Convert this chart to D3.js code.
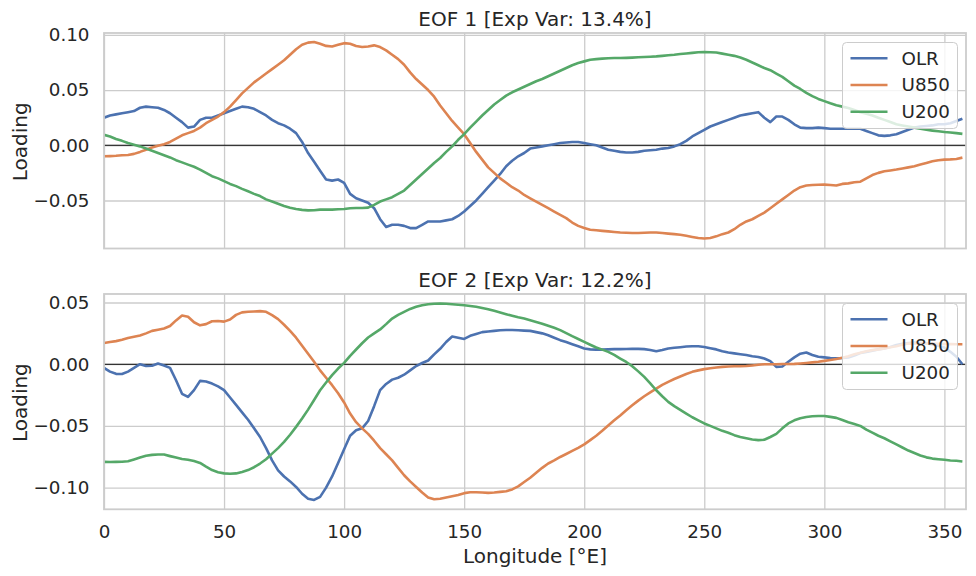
<!DOCTYPE html>
<html><head><meta charset="utf-8">
<script src="https://cdn.jsdelivr.net/npm/d3@7"></script>
<style>
html,body{margin:0;padding:0;background:#fff;}
svg text{font-family:"DejaVu Sans",sans-serif;fill:#262626;}
</style></head>
<body><svg id="chart" width="976" height="576"></svg>
<script>
// Longitude grid (°E), 2.5° spacing
const lon = d3.range(0, 360, 2.5);
const seriesNames = ["OLR", "U850", "U200"];
const titles = ["EOF 1 [Exp Var: 13.4%]", "EOF 2 [Exp Var: 12.2%]"];
const xTicks = [0, 50, 100, 150, 200, 250, 300, 350];
const yTicks1 = [-0.05, 0.00, 0.05, 0.10];
const yTicks2 = [-0.10, -0.05, 0.00, 0.05];

const eof1OLR = [
 0.025,0.027,0.028,0.029,0.030,0.031,0.034,0.035,
 0.0345,0.034,0.032,0.029,0.025,0.021,0.016,0.017,
 0.023,0.025,0.025,0.027,0.029,0.031,0.033,0.035,
 0.0345,0.033,0.030,0.027,0.023,0.020,0.018,0.015,
 0.011,0.003,-0.007,-0.015,-0.023,-0.031,-0.032,-0.031,
 -0.034,-0.044,-0.048,-0.050,-0.052,-0.057,-0.067,-0.074,
 -0.072,-0.072,-0.073,-0.075,-0.075,-0.072,-0.069,-0.069,
 -0.069,-0.068,-0.067,-0.064,-0.060,-0.055,-0.050,-0.044,
 -0.038,-0.032,-0.026,-0.019,-0.014,-0.010,-0.007,-0.003,
 -0.002,-0.001,0.000,0.001,0.002,0.0025,0.003,0.003,
 0.002,0.001,0.000,-0.002,-0.004,-0.005,-0.006,-0.0065,
 -0.0065,-0.006,-0.005,-0.0045,-0.004,-0.003,-0.0025,-0.001,
 0.001,0.004,0.008,0.011,0.014,0.017,0.019,0.021,
 0.023,0.025,0.027,0.028,0.029,0.030,0.025,0.021,
 0.026,0.026,0.023,0.019,0.016,0.0155,0.0155,0.016,
 0.0155,0.015,0.015,0.015,0.015,0.015,0.015,0.013,
 0.011,0.009,0.0085,0.009,0.010,0.012,0.014,0.016,
 0.017,0.0175,0.018,0.019,0.019,0.020,0.022,0.024];
const eof1U850 = [
 -0.010,-0.0098,-0.0095,-0.009,-0.0088,-0.0078,-0.006,-0.004,
 -0.002,-0.0005,0.001,0.003,0.006,0.009,0.011,0.013,
 0.016,0.020,0.023,0.026,0.030,0.035,0.041,0.047,
 0.052,0.057,0.061,0.065,0.069,0.073,0.077,0.082,
 0.087,0.091,0.093,0.0935,0.092,0.090,0.0895,0.091,
 0.0925,0.092,0.090,0.089,0.0895,0.0905,0.089,0.086,
 0.082,0.078,0.073,0.066,0.060,0.055,0.050,0.044,
 0.036,0.029,0.022,0.016,0.010,0.002,-0.006,-0.013,
 -0.020,-0.025,-0.030,-0.034,-0.038,-0.041,-0.045,-0.048,
 -0.051,-0.054,-0.057,-0.060,-0.063,-0.066,-0.070,-0.073,
 -0.075,-0.0765,-0.077,-0.0775,-0.078,-0.0785,-0.079,-0.0792,
 -0.0795,-0.0795,-0.0793,-0.079,-0.079,-0.0795,-0.080,-0.0805,
 -0.081,-0.082,-0.083,-0.084,-0.0845,-0.084,-0.0825,-0.0805,
 -0.079,-0.076,-0.072,-0.069,-0.067,-0.064,-0.061,-0.057,
 -0.053,-0.049,-0.045,-0.041,-0.038,-0.0365,-0.036,-0.0358,
 -0.0356,-0.036,-0.0365,-0.035,-0.0345,-0.0335,-0.033,-0.030,
 -0.027,-0.025,-0.0235,-0.0228,-0.022,-0.021,-0.020,-0.019,
 -0.0175,-0.016,-0.0145,-0.0135,-0.013,-0.0128,-0.0124,-0.0112];
const eof1U200 = [
 0.0095,0.008,0.0057,0.004,0.002,0.0005,-0.001,-0.003,
 -0.005,-0.007,-0.009,-0.011,-0.0135,-0.0155,-0.0175,-0.0195,
 -0.022,-0.025,-0.028,-0.030,-0.0325,-0.035,-0.037,-0.0395,
 -0.0417,-0.044,-0.046,-0.049,-0.051,-0.053,-0.055,-0.0565,
 -0.0577,-0.0585,-0.059,-0.0588,-0.0583,-0.0582,-0.0583,-0.058,
 -0.0577,-0.057,-0.0568,-0.0568,-0.0565,-0.054,-0.051,-0.049,
 -0.047,-0.044,-0.041,-0.036,-0.031,-0.026,-0.021,-0.016,
 -0.0115,-0.006,-0.001,0.005,0.010,0.016,0.0215,0.027,
 0.032,0.037,0.041,0.045,0.048,0.0505,0.053,0.0555,
 0.058,0.060,0.0625,0.065,0.0675,0.070,0.0725,0.0745,
 0.076,0.0775,0.078,0.0785,0.0788,0.079,0.079,0.0792,
 0.0794,0.0797,0.080,0.0802,0.0805,0.081,0.0815,0.082,
 0.0827,0.0832,0.0837,0.0843,0.0845,0.0843,0.084,0.083,
 0.082,0.081,0.0795,0.0775,0.075,0.0725,0.070,0.068,
 0.065,0.062,0.058,0.054,0.051,0.0475,0.0445,0.042,
 0.040,0.038,0.0362,0.035,0.0338,0.032,0.030,0.0285,
 0.027,0.025,0.023,0.021,0.019,0.018,0.017,0.016,
 0.015,0.014,0.0133,0.0127,0.012,0.0115,0.011,0.0103];
const eof2OLR = [
 -0.003,-0.006,-0.0078,-0.008,-0.006,-0.003,0.000,-0.0015,
 -0.0012,0.0005,-0.001,-0.003,-0.013,-0.024,-0.0265,-0.021,
 -0.0135,-0.014,-0.0157,-0.018,-0.021,-0.027,-0.033,-0.039,
 -0.045,-0.052,-0.059,-0.068,-0.078,-0.086,-0.091,-0.095,
 -0.0995,-0.105,-0.109,-0.110,-0.1075,-0.100,-0.091,-0.080,
 -0.069,-0.058,-0.0535,-0.052,-0.046,-0.034,-0.021,-0.016,
 -0.0125,-0.011,-0.0085,-0.005,-0.0015,0.001,0.003,0.008,
 0.0125,0.018,0.0225,0.0215,0.0205,0.023,0.0245,0.026,
 0.0265,0.027,0.0275,0.0277,0.0277,0.0275,0.0272,0.027,
 0.026,0.025,0.0235,0.0215,0.0195,0.018,0.0162,0.0145,
 0.0128,0.012,0.0118,0.0118,0.012,0.0122,0.0122,0.0123,
 0.0124,0.0124,0.0122,0.0115,0.0105,0.0115,0.0127,0.0133,
 0.0138,0.0143,0.0146,0.0145,0.014,0.013,0.012,0.0105,
 0.0095,0.0088,0.0081,0.0075,0.0065,0.0058,0.0046,0.0025,
 -0.0022,-0.0018,0.002,0.0055,0.0085,0.0095,0.0075,0.006,
 0.0055,0.005,0.0048,0.005,0.0055,0.007,0.009,0.010,
 0.011,0.012,0.0128,0.014,0.0155,0.0165,0.0172,0.0175,
 0.0172,0.0168,0.016,0.015,0.0135,0.010,0.006,0.000];
const eof2U850 = [
 0.0172,0.018,0.0187,0.0198,0.0212,0.0222,0.0232,0.025,
 0.027,0.028,0.029,0.031,0.0355,0.0395,0.0385,0.034,
 0.0315,0.0325,0.0348,0.035,0.0345,0.0362,0.040,0.042,
 0.0425,0.0427,0.043,0.0425,0.0398,0.0365,0.032,0.027,
 0.0215,0.015,0.0085,0.002,-0.005,-0.011,-0.017,-0.0235,
 -0.031,-0.040,-0.047,-0.052,-0.0565,-0.062,-0.068,-0.073,
 -0.078,-0.084,-0.090,-0.095,-0.0995,-0.104,-0.108,-0.1095,
 -0.109,-0.108,-0.107,-0.106,-0.1045,-0.1038,-0.1038,-0.104,
 -0.1043,-0.104,-0.1035,-0.103,-0.1015,-0.099,-0.0955,-0.092,
 -0.088,-0.084,-0.0805,-0.078,-0.0752,-0.0728,-0.0703,-0.0678,
 -0.065,-0.0615,-0.058,-0.054,-0.0497,-0.0455,-0.0415,-0.0373,
 -0.0333,-0.0295,-0.026,-0.0228,-0.0198,-0.0168,-0.0143,-0.012,
 -0.010,-0.008,-0.0062,-0.005,-0.004,-0.0033,-0.0027,-0.0022,
 -0.0018,-0.0016,-0.0016,-0.0014,-0.001,-0.0005,0.000,0.000,
 0.000,0.0002,0.0002,0.0003,0.0006,0.001,0.0015,0.002,
 0.0027,0.0034,0.0042,0.0053,0.0065,0.008,0.0092,0.0105,
 0.0114,0.012,0.0128,0.0137,0.0146,0.0157,0.0167,0.0168,
 0.0168,0.0168,0.0167,0.0165,0.0164,0.0163,0.0162,0.0162];
const eof2U200 = [
 -0.0792,-0.0793,-0.0792,-0.079,-0.0786,-0.0772,-0.0757,-0.0742,
 -0.0735,-0.0732,-0.0732,-0.0745,-0.0757,-0.0768,-0.0775,-0.0785,
 -0.080,-0.083,-0.0858,-0.0875,-0.0885,-0.0888,-0.0885,-0.0873,
 -0.0858,-0.0835,-0.0805,-0.077,-0.0725,-0.068,-0.063,-0.0572,
 -0.0508,-0.044,-0.0368,-0.029,-0.0211,-0.0148,-0.0089,-0.0035,
 0.0011,0.0068,0.0119,0.017,0.0216,0.025,0.0282,0.0325,
 0.037,0.040,0.0424,0.0448,0.0465,0.0478,0.0486,0.049,
 0.0492,0.049,0.0486,0.0482,0.0478,0.0472,0.0465,0.0456,
 0.0446,0.0433,0.0419,0.0405,0.0392,0.038,0.037,0.0357,
 0.0343,0.0328,0.0311,0.0295,0.0276,0.0252,0.0227,0.0204,
 0.0181,0.0158,0.0135,0.0118,0.010,0.0075,0.0046,0.0018,
 -0.0016,-0.0058,-0.0103,-0.0155,-0.0211,-0.026,-0.0305,-0.034,
 -0.037,-0.040,-0.043,-0.0455,-0.048,-0.050,-0.052,-0.054,
 -0.0555,-0.0575,-0.059,-0.060,-0.061,-0.0615,-0.0612,-0.059,
 -0.0565,-0.052,-0.048,-0.0455,-0.0438,-0.0428,-0.0422,-0.042,
 -0.042,-0.0427,-0.0435,-0.0452,-0.047,-0.0485,-0.050,-0.053,
 -0.0555,-0.058,-0.060,-0.0625,-0.065,-0.0675,-0.070,-0.072,
 -0.074,-0.0755,-0.0765,-0.077,-0.0775,-0.078,-0.0783,-0.0788];

const colors = ["#4C72B0", "#DD8452", "#55A868"];

const svg = d3.select("#chart");
const left = 104, right = 966;
const x = d3.scaleLinear().domain([0, 359]).range([left, right]);

const panels = [
  {title: titles[0], series: [eof1OLR, eof1U850, eof1U200], yDomain: [-0.0935, 0.1017], top: 33, bottom: 248.5, ticks: yTicks1, showX: false},
  {title: titles[1], series: [eof2OLR, eof2U850, eof2U200], yDomain: [-0.1176, 0.0569], top: 294, bottom: 509.3, ticks: yTicks2, showX: true}
];

const fmt = v => { const s = Math.abs(v).toFixed(2); return (v < 0 ? "\u2212" : "") + s; };

panels.forEach((p, pi) => {
  const y = d3.scaleLinear().domain(p.yDomain).range([p.bottom, p.top]);
  const g = svg.append("g");
  const clipId = "clip" + pi;
  svg.append("clipPath").attr("id", clipId).append("rect")
    .attr("x", left).attr("y", p.top).attr("width", right - left).attr("height", p.bottom - p.top);

  // grid
  const xa = d3.axisBottom(x).tickValues(xTicks).tickSize(-(p.bottom - p.top)).tickFormat(d3.format("d")).tickPadding(10);
  const xg = g.append("g").attr("transform", `translate(0,${p.bottom})`).call(xa);
  xg.select(".domain").remove();
  xg.selectAll(".tick line").attr("stroke", "#cccccc").attr("stroke-width", 1.3);
  if (p.showX) {
    xg.selectAll(".tick text").attr("font-size", 18.3).attr("fill", "#262626").attr("dy", "0.71em").attr("y", 16);
  } else {
    xg.selectAll(".tick text").remove();
  }
  const ya = d3.axisLeft(y).tickValues(p.ticks).tickSize(-(right - left)).tickFormat(fmt).tickPadding(14);
  const yg = g.append("g").attr("transform", `translate(${left},0)`).call(ya);
  yg.select(".domain").remove();
  yg.selectAll(".tick line").attr("stroke", "#cccccc").attr("stroke-width", 1.3);
  yg.selectAll(".tick text").attr("font-size", 18.3).attr("fill", "#262626").attr("x", -14.5);

  // zero line
  g.append("line").attr("x1", left).attr("x2", right).attr("y1", y(0)).attr("y2", y(0))
    .attr("stroke", "#000").attr("stroke-width", 1.1);

  // series lines
  const line = d3.line().x((d, i) => x(lon[i])).y(d => y(d));
  p.series.forEach((s, si) => {
    g.append("path").datum(s).attr("d", line).attr("fill", "none")
      .attr("stroke", colors[si]).attr("stroke-width", 2.6)
      .attr("stroke-linejoin", "round").attr("stroke-linecap", "butt")
      .attr("clip-path", `url(#${clipId})`);
  });

  // frame
  g.append("rect").attr("x", left).attr("y", p.top).attr("width", right - left).attr("height", p.bottom - p.top)
    .attr("fill", "none").attr("stroke", "#cccccc").attr("stroke-width", 1.8);

  // title
  g.append("text").attr("x", (left + right) / 2).attr("y", p.top - 7.5).attr("text-anchor", "middle")
    .attr("font-size", 20).text(p.title);

  // y label
  g.append("text").attr("transform", `translate(27,${(p.top + p.bottom) / 2 + 1}) rotate(-90)`)
    .attr("text-anchor", "middle").attr("font-size", 20).text("Loading");

  // legend
  const lw = 115, lh = 86;
  const lx = right - 8.5 - lw, ly = p.top + 9.5;
  const lg = g.append("g");
  lg.append("rect").attr("x", lx).attr("y", ly).attr("width", lw).attr("height", lh).attr("rx", 4)
    .attr("fill", "rgba(255,255,255,0.8)").attr("stroke", "#cccccc").attr("stroke-width", 1);
  seriesNames.forEach((n, si) => {
    const cy = ly + 15.8 + si * 26.7;
    lg.append("line").attr("x1", lx + 8).attr("x2", lx + 45).attr("y1", cy).attr("y2", cy)
      .attr("stroke", colors[si]).attr("stroke-width", 2.6);
    lg.append("text").attr("x", lx + 59).attr("y", cy).attr("dy", "0.35em").attr("font-size", 18.3).text(n);
  });
});

svg.append("text").attr("x", (left + right) / 2).attr("y", 563).attr("text-anchor", "middle")
  .attr("font-size", 20).text("Longitude [\u00B0E]");
</script>
</body></html>
